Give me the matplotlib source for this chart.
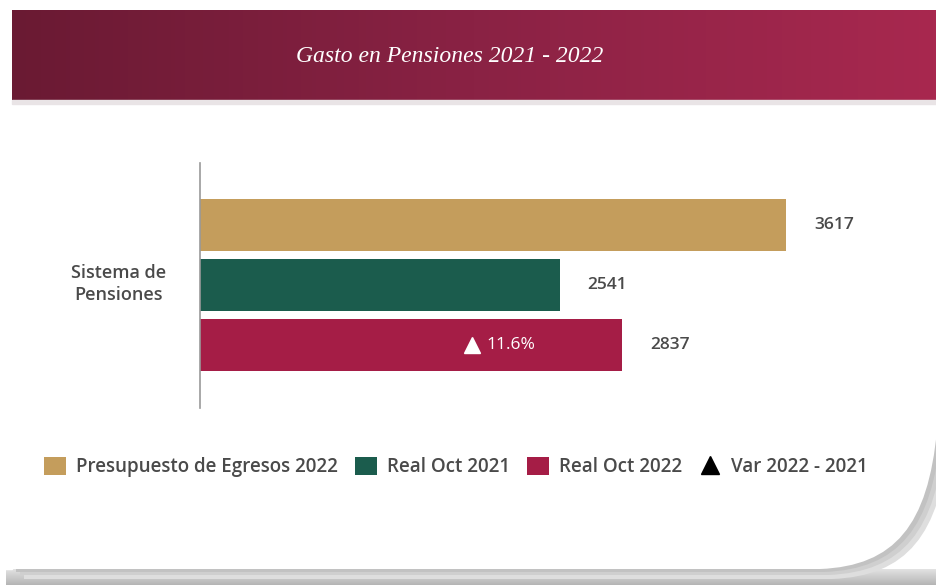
import numpy as np
import matplotlib
matplotlib.use("Agg")
import matplotlib.pyplot as plt
from matplotlib.patches import Patch, Rectangle, PathPatch
from matplotlib.lines import Line2D
from matplotlib.path import Path

# data
category = "Sistema de\nPensiones"
series = ["Presupuesto de Egresos 2022", "Real Oct 2021", "Real Oct 2022"]
values = [3617, 2541, 2837]
colors = ["#c49d5c", "#1b5c4d", "#a51d46"]
var_label = "Var 2022 - 2021"
var_text = "11.6%"
title = "Gasto en Pensiones 2021 - 2022"

W, H = 937, 585
fig = plt.figure(figsize=(W / 100, H / 100), dpi=100)
fig.patch.set_facecolor("white")

# background layer: shadow, card, header gradient
bg = fig.add_axes([0, 0, 1, 1])
bg.set_xlim(0, W)
bg.set_ylim(H, 0)
bg.axis("off")
shade = np.linspace(0, 1, 40).reshape(-1, 1)
gcmap = matplotlib.colors.LinearSegmentedColormap.from_list("sh", ["#b5b5b5", "#e2e2e2"])
bg.imshow(shade, extent=(6, W, 569, 585), cmap=gcmap, aspect="auto", zorder=0)

codes = [Path.MOVETO, Path.LINETO, Path.LINETO, Path.CURVE4, Path.CURVE4, Path.CURVE4,
         Path.LINETO, Path.CLOSEPOLY]
pts = [(12, 100), (937, 100), (937, 430), (928, 525), (895, 566), (820, 569),
       (12, 569), (12, 100)]
for dx, dy, c in [(12, 10, "#dedede"), (8, 6, "#cfcfcf"), (4, 3, "#c2c2c2")]:
    sh = Path([(x + dx, y + dy) for x, y in pts], codes)
    bg.add_patch(PathPatch(sh, facecolor=c, edgecolor="none", zorder=0.5))
bg.add_patch(PathPatch(Path(pts, codes), facecolor="white", edgecolor="none", zorder=1))
bg.add_patch(Rectangle((0, 0), 12, 569, color="white", zorder=1))

grad = np.linspace(0, 1, 256).reshape(1, -1)
cmap = matplotlib.colors.LinearSegmentedColormap.from_list("hdr", ["#6a1a33", "#8a2244", "#a8284f"])
bg.imshow(grad, extent=(12, W, 100, 10), cmap=cmap, aspect="auto", zorder=2)
bg.add_patch(Rectangle((12, 100), W - 12, 4, color="#e9e4e6", zorder=2))
bg.text(450, 56, title, color="white", fontsize=17, style="italic",
        family="Liberation Serif", ha="center", va="center", zorder=3)

# bar chart
ax = fig.add_axes([200 / W, 1 - 408 / H, 700 / W, 245 / H])
ax.patch.set_alpha(0)
ypos = [0, 1, 2]
ax.barh(ypos, values, height=0.87, color=colors, zorder=2)
ax.set_xlim(829, 829 + 700 / 0.2102)
ax.set_ylim(3.05, -1.03)
for s in ["top", "right", "bottom"]:
    ax.spines[s].set_visible(False)
ax.spines["left"].set_color("#999999")
ax.spines["left"].set_linewidth(1.2)
ax.set_xticks([])
ax.set_yticks([])

for y, v in zip(ypos, values):
    ax.annotate(str(v), (v, y), xytext=(20, 0), textcoords="offset points",
                ha="left", va="center", fontsize=12.5, color="#4a4a4a",
                family="Open Sans", fontweight="semibold")

ax.plot([2123], [2], marker="^", color="white", markersize=12, zorder=3)
ax.text(2190, 2, var_text, color="white", fontsize=12.5, family="Open Sans",
        ha="left", va="center", zorder=3)

fig.text(119 / W, 1 - 284 / H, category, ha="center", va="center",
         fontsize=13, color="#4a4a4a", family="Open Sans", fontweight="semibold",
         linespacing=1.3)

handles = [Patch(facecolor=c, edgecolor="none") for c in colors]
handles.append(Line2D([], [], marker="^", color="black", linestyle="none", markersize=13))
fig.legend(handles, series + [var_label], loc="center", bbox_to_anchor=(456 / W, 1 - 467 / H),
           ncol=4, frameon=False, handlelength=1.15, handleheight=1.15, handletextpad=0.55,
           columnspacing=0.9, prop={"family": "Open Sans", "weight": "semibold", "size": 13.5},
           labelcolor="#4a4a4a")

fig.savefig("out.png", dpi=100, facecolor="white")
